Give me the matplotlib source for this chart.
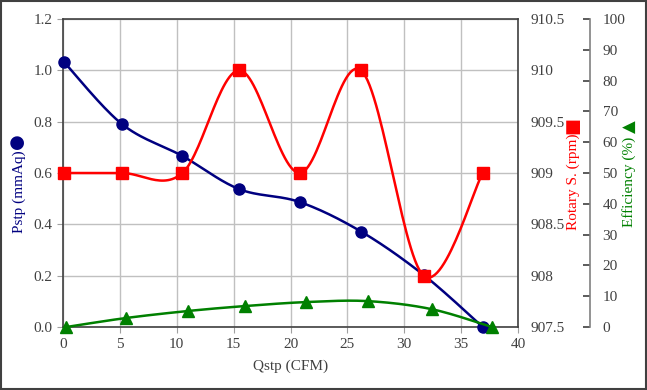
import numpy as np
import matplotlib
matplotlib.use("Agg")
import matplotlib.pyplot as plt
from matplotlib.patches import Rectangle

# Data
qstp_p = [0.1, 5.2, 10.5, 15.5, 20.8, 26.2, 31.7, 36.9]
pstp = [1.032, 0.79, 0.666, 0.537, 0.487, 0.372, 0.203, 0.0]

qstp_r = [0.1, 5.2, 10.5, 15.5, 20.8, 26.2, 31.7, 36.9]
rpm = [909, 909, 909, 910, 909, 910, 908, 909]

qstp_e = [0.3, 5.5, 11.0, 16.0, 21.4, 26.8, 32.4, 37.7]
eff = [0.0, 2.9, 5.2, 6.8, 8.1, 8.4, 5.8, 0.0]


def smooth(x, y, n=30):
    # Excel-style smoothed line: cubic Bezier through the points
    p = np.column_stack([x, y]).astype(float)
    ext = np.vstack([p[0], p, p[-1]])
    t = np.linspace(0, 1, n)[:, None]
    out = []
    for i in range(len(p) - 1):
        p0, p1 = ext[i + 1], ext[i + 2]
        c1 = p0 + (ext[i + 2] - ext[i]) / 6
        c2 = p1 - (ext[i + 3] - ext[i + 1]) / 6
        seg = ((1 - t) ** 3) * p0 + 3 * ((1 - t) ** 2) * t * c1 + 3 * (1 - t) * t ** 2 * c2 + t ** 3 * p1
        out.append(seg)
    s = np.vstack(out)
    return s[:, 0], s[:, 1]


plt.rcParams["font.family"] = ["Liberation Serif", "DejaVu Sans"]
plt.rcParams["font.size"] = 11
tick_col = "#404040"

fig = plt.figure(figsize=(6.47, 3.90), dpi=100)
ax = fig.add_axes([63 / 647, 1 - 327 / 390, 455 / 647, 308 / 390])
ax2 = ax.twinx()
ax3 = ax.twinx()

navy = "#000080"
red = "#ff0000"
green = "#008000"

sx, sy = smooth(qstp_p, pstp)
ax.plot(sx, sy, color=navy, lw=1.8, zorder=3, clip_on=False)
ax.plot(qstp_p, pstp, "o", color=navy, ms=8, zorder=4, clip_on=False)

sx, sy = smooth(qstp_r, rpm)
ax2.plot(sx, sy, color=red, lw=1.8, zorder=3, clip_on=False)
ax2.plot(qstp_r, rpm, "s", color=red, ms=8.5, zorder=4, clip_on=False)

sx, sy = smooth(qstp_e, eff)
ax3.plot(sx, sy, color=green, lw=1.8, zorder=3, clip_on=False)
ax3.plot(qstp_e, eff, "^", color=green, ms=8, zorder=4, clip_on=False)

ax.set_xlim(0, 40)
ax.set_ylim(0, 1.2)
ax.set_xticks(np.arange(0, 41, 5))
ax.set_yticks(np.arange(0, 1.21, 0.2))
ax.yaxis.set_major_formatter(matplotlib.ticker.FormatStrFormatter("%.1f"))
ax.grid(True, color="#c0c0c0", lw=1)
ax.set_axisbelow(True)
ax.tick_params(axis="both", colors="#a0a0a0", labelcolor=tick_col, length=4, labelsize=11)
ax.tick_params(axis="x", pad=4)
for s in ax.spines.values():
    s.set_color("#404040")
    s.set_linewidth(1.2)
ax.set_xlabel("Qstp (CFM)", color=tick_col, fontsize=11, labelpad=6)

ax2.set_ylim(907.5, 910.5)
ax2.set_yticks(np.arange(907.5, 910.6, 0.5))
ax2.yaxis.set_major_formatter(matplotlib.ticker.FormatStrFormatter("%g"))
ax2.tick_params(axis="y", length=0, pad=9, labelcolor=tick_col, labelsize=11)
for s in ax2.spines.values():
    s.set_visible(False)

ax3.set_ylim(0, 100)
ax3.set_yticks(np.arange(0, 101, 10))
ax3.spines["right"].set_position(("axes", (590 - 63) / 455))
for k in ["left", "top", "bottom"]:
    ax3.spines[k].set_visible(False)
ax3.spines["right"].set_color("#808080")
ax3.spines["right"].set_linewidth(1.2)
ax3.tick_params(axis="y", direction="in", length=5, width=1.2, colors="#404040",
                labelcolor=tick_col, pad=9, labelsize=11)

# axis titles with marker symbols
fig.text(19 / 647, 1 - 192 / 390, "Pstp (mmAq)", rotation=90, color=navy,
         ha="center", va="center", fontsize=11)
fig.text(17 / 647, 1 - 141 / 390, "\u25cf", rotation=90, color=navy,
         ha="center", va="center", fontsize=13, family=["DejaVu Sans"])
fig.text(573 / 647, 1 - 182 / 390, "Rotary S. (rpm)", rotation=90, color=red,
         ha="center", va="center", fontsize=11)
fig.text(572 / 647, 1 - 126 / 390, "\u25a0", rotation=90, color=red,
         ha="center", va="center", fontsize=13, family=["DejaVu Sans"])
fig.text(629 / 647, 1 - 182 / 390, "Efficiency (%)", rotation=90, color=green,
         ha="center", va="center", fontsize=11)
fig.text(630 / 647, 1 - 127 / 390, "\u25b2", rotation=90, color=green,
         ha="center", va="center", fontsize=12, family=["DejaVu Sans"])

fig.patches.append(Rectangle((1 / 647, 1 / 390), 645 / 647, 388 / 390, transform=fig.transFigure,
                             fill=False, edgecolor="#404040", lw=1.5))

fig.savefig("out.png", dpi=100)
